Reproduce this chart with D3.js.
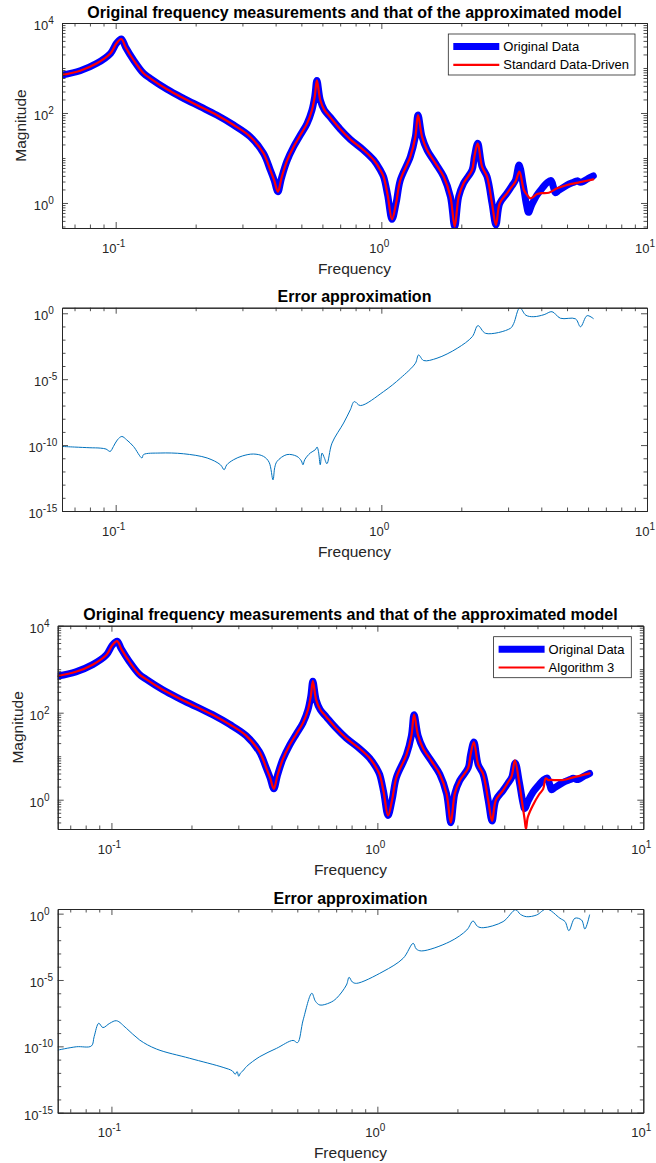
<!DOCTYPE html>
<html><head><meta charset="utf-8">
<script src="https://cdn.jsdelivr.net/npm/d3@7"></script>
<style>
body{margin:0;background:#fff;}
svg{display:block;font-family:"Liberation Sans",Arial,Helvetica,sans-serif;}
</style></head><body>
<script>
// ---------------- data ----------------
const freqDomain = [0.0628, 10];
const xTickValues = [0.1, 1, 10];
const magTickValues = [1, 100, 10000];
const errTickValues = [1e-15, 1e-10, 1e-5, 1];
const mag1YLim = [0.278, 10000];
const mag2YLim = [0.212, 10000];
const err1YLim = [1e-15, 2.65];
const err2YLim = [1e-15, 2.24];

const seriesNames1 = ["Original Data", "Standard Data-Driven"];
const seriesNames2 = ["Original Data", "Algorithm 3"];

// [frequency, magnitude]
const originalData = [
 [0.0628,699],[0.0735,871],[0.0850,1271],[0.0957,2122],[0.1007,3540],[0.1050,4410],[0.1090,2900],
 [0.1167,1506],[0.1273,762],[0.1349,590],[0.156,336],[0.180,212],[0.208,138],[0.240,90],[0.278,54],
 [0.321,29.7],[0.360,12.7],[0.382,5.4],[0.395,3.2],[0.408,1.78],[0.421,3.6],[0.441,8.5],[0.468,18],
 [0.495,32],[0.525,58],[0.548,115],[0.562,240],[0.572,530],[0.589,194],[0.610,117],[0.643,80],
 [0.700,44],[0.764,26],[0.857,15],[0.936,9.0],[0.991,5.4],[1.02,3.8],[1.056,1.5],[1.097,0.434],
 [1.136,0.98],[1.179,3.24],[1.286,10.7],[1.343,29.7],[1.374,90],[1.423,29.7],[1.486,15.1],
 [1.60,7.6],[1.717,3.84],[1.82,1.38],[1.889,0.297],[1.955,1.38],[2.04,2.74],[2.196,5.41],
 [2.24,10.7],[2.306,21.2],[2.394,6.41],[2.50,3.84],[2.61,0.98],[2.70,0.324],[2.79,0.98],[2.97,1.64],
 [3.10,2.4],[3.20,3.24],[3.30,7.0],[3.42,2.5],[3.52,0.9],[3.58,0.62],[3.68,0.9],[3.85,1.5],
 [4.05,2.2],[4.20,2.8],[4.35,3.15],[4.45,2.2],[4.52,1.7],[4.65,1.9],[5.00,2.5],[5.30,2.9],
 [5.45,3.1],[5.62,2.9],[5.75,3.0],[6.00,3.5],[6.28,4.0]
];
const standardModel = [
 [0.0628,699],[0.0735,871],[0.0850,1271],[0.0957,2122],[0.1007,3540],[0.1050,4410],[0.1090,2900],
 [0.1167,1506],[0.1273,762],[0.1349,590],[0.156,336],[0.180,212],[0.208,138],[0.240,90],[0.278,54],
 [0.321,29.7],[0.360,12.7],[0.382,5.4],[0.395,3.2],[0.408,1.78],[0.421,3.6],[0.441,8.5],[0.468,18],
 [0.495,32],[0.525,58],[0.548,115],[0.562,240],[0.572,530],[0.589,194],[0.610,117],[0.643,80],
 [0.700,44],[0.764,26],[0.857,15],[0.936,9.0],[0.991,5.4],[1.02,3.8],[1.056,1.5],[1.097,0.434],
 [1.136,0.98],[1.179,3.24],[1.286,10.7],[1.343,29.7],[1.374,90],[1.423,29.7],[1.486,15.1],
 [1.60,7.6],[1.717,3.84],[1.82,1.38],[1.889,0.297],[1.955,1.38],[2.04,2.74],[2.196,5.41],
 [2.24,10.7],[2.306,21.2],[2.394,6.41],[2.50,3.84],[2.61,0.98],[2.70,0.324],[2.79,0.98],[2.97,1.64],
 [3.10,2.3],[3.20,3.0],[3.31,4.96],[3.44,1.94],[3.54,1.5],[3.64,1.27],[3.86,1.58],[4.00,1.65],
 [4.27,1.69],[4.59,2.12],[5.00,2.51],[5.60,2.9],[6.28,3.36]
];
const algorithm3Model = [
 [0.0628,699],[0.0735,871],[0.0850,1271],[0.0957,2122],[0.1007,3540],[0.1050,4410],[0.1090,2900],
 [0.1167,1506],[0.1273,762],[0.1349,590],[0.156,336],[0.180,212],[0.208,138],[0.240,90],[0.278,54],
 [0.321,29.7],[0.360,12.7],[0.382,5.4],[0.395,3.2],[0.408,1.78],[0.421,3.6],[0.441,8.5],[0.468,18],
 [0.495,32],[0.525,58],[0.548,115],[0.562,240],[0.572,530],[0.589,194],[0.610,117],[0.643,80],
 [0.700,44],[0.764,26],[0.857,15],[0.936,9.0],[0.991,5.4],[1.02,3.8],[1.056,1.5],[1.097,0.434],
 [1.136,0.98],[1.179,3.24],[1.286,10.7],[1.343,29.7],[1.374,90],[1.423,29.7],[1.486,15.1],
 [1.60,7.6],[1.717,3.84],[1.82,1.38],[1.889,0.297],[1.955,1.38],[2.04,2.74],[2.196,5.41],
 [2.24,10.7],[2.306,21.2],[2.394,6.41],[2.50,3.84],[2.61,0.98],[2.70,0.324],[2.79,0.98],[2.97,1.64],
 [3.10,2.5],[3.20,3.5],[3.29,8.0],[3.42,2.3],[3.52,0.7],[3.58,0.35],[3.62,0.212],[3.68,0.4],
 [3.86,0.78],[4.05,1.3],[4.20,1.75],[4.30,3.1],[4.40,2.8],[4.46,2.84],[5.00,2.84],[5.45,3.27],
 [6.28,4.04]
];
// [frequency, error]
const errorStandard = [
 [0.0628,7.9e-11],[0.070,7.1e-11],[0.080,6.3e-11],[0.0875,5.9e-11],[0.092,5.0e-11],[0.0953,3.3e-11],
 [0.0981,7.9e-11],[0.1015,2.5e-10],[0.1055,4.5e-10],[0.110,2.5e-10],[0.1167,7.9e-11],[0.1256,1.05e-11],
 [0.1273,1.9e-11],[0.147,2.5e-11],[0.18,2.2e-11],[0.221,1.05e-11],[0.248,3.2e-12],[0.256,1.35e-12],
 [0.262,3.2e-12],[0.278,7.8e-12],[0.30,1.5e-11],[0.330,2.1e-11],[0.360,1.4e-11],[0.378,5.0e-12],
 [0.391,2.3e-13],[0.397,2.0e-12],[0.405,5.8e-12],[0.441,1.9e-11],[0.481,1.4e-11],[0.500,6.3e-12],
 [0.507,3.2e-12],[0.515,7.9e-12],[0.540,2.5e-11],[0.564,4.4e-11],[0.573,7.1e-11],[0.580,3.2e-11],
 [0.589,3.2e-12],[0.598,2.5e-11],[0.610,1.1e-11],[0.624,3.9e-12],[0.652,1.4e-10],[0.721,4.7e-9],
 [0.764,4.7e-8],[0.791,2.0e-7],[0.834,1.0e-7],[1.02,1.15e-6],[1.18,1.2e-5],[1.343,1.6e-4],
 [1.381,6.9e-4],[1.443,2.6e-4],[1.62,3.9e-4],[1.93,2.2e-3],[2.20,1.7e-2],[2.31,0.115],[2.47,0.030],
 [3.06,0.072],[3.15,0.17],[3.32,2.65],[3.50,0.71],[3.75,0.55],[4.10,0.79],[4.39,1.32],[4.72,0.42],
 [5.38,0.38],[5.62,0.095],[5.95,0.66],[6.28,0.40]
];
const errorAlgorithm3 = [
 [0.0628,5.2e-11],[0.0738,9.3e-11],[0.0841,1.07e-10],[0.0861,5.4e-10],[0.0896,5.5e-9],[0.0929,2.6e-9],
 [0.0986,5.5e-9],[0.1045,8.5e-9],[0.1138,2.3e-9],[0.1277,3.0e-10],[0.1476,6.3e-11],[0.197,1.26e-11],
 [0.263,2.6e-12],[0.285,1.4e-12],[0.292,7.9e-13],[0.297,1.26e-12],[0.301,5.6e-13],[0.306,1.0e-12],
 [0.312,1.4e-12],[0.322,3.0e-12],[0.361,1.66e-11],[0.418,7.1e-11],[0.482,2.8e-10],[0.501,1.9e-10],
 [0.526,9.8e-9],[0.567,1.0e-6],[0.585,2.5e-7],[0.608,1.3e-7],[0.663,1.95e-7],[0.702,4.2e-7],
 [0.765,4.2e-6],[0.783,1.6e-5],[0.805,7.1e-6],[0.835,5.6e-6],[1.05,4.3e-5],[1.25,4.3e-4],
 [1.364,5.8e-3],[1.40,2.2e-3],[1.466,1.55e-3],[1.874,7.8e-3],[2.17,0.059],[2.29,0.28],[2.38,0.11],
 [2.50,0.087],[2.97,0.25],[3.31,1.95],[3.45,0.89],[3.64,0.59],[3.97,0.79],[4.33,2.24],[4.86,0.45],
 [5.08,0.25],[5.25,0.052],[5.53,0.45],[5.86,0.33],[6.03,0.069],[6.28,0.79]
];

// ---------------- drawing ----------------
const W = 656, H = 1163;
const AX = "#262626";
const svg = d3.select("body").append("svg").attr("width", W).attr("height", H);
svg.append("rect").attr("width", W).attr("height", H).attr("fill", "#fff");
const defs = svg.append("defs");

function decadeMinors(domain, majors, withSubdecades) {
  const out = [];
  const lo = Math.floor(Math.log10(domain[0])), hi = Math.ceil(Math.log10(domain[1]));
  for (let d = lo; d <= hi; d++) {
    const ks = withSubdecades ? [1,2,3,4,5,6,7,8,9] : [1];
    ks.forEach(k => {
      const v = +(k * Math.pow(10, d)).toPrecision(6);
      if (v >= domain[0] * 0.9999 && v <= domain[1] * 1.0001 && !majors.some(m => Math.abs(m - v) / v < 1e-6)) out.push(v);
    });
  }
  return out;
}

function expLabel(sel, v, supSize) {
  const e = Math.round(Math.log10(v));
  sel.append("tspan").text("10");
  sel.append("tspan").attr("font-size", supSize).attr("dy", -6).text(String(e));
}

function drawPanel(cfg) {
  const {id, L, R, T, B} = cfg;
  const g = svg.append("g");
  const x = d3.scaleLog().domain(freqDomain).range([L, R]);
  const y = d3.scaleLog().domain(cfg.yDomain).range([B, T]);

  defs.append("clipPath").attr("id", "clip" + id)
    .append("rect").attr("x", L).attr("y", T).attr("width", R - L).attr("height", B - T);

  const line = d3.line().x(d => x(d[0])).y(d => y(d[1])).curve(d3.curveCatmullRom.alpha(0.5));
  const dg = g.append("g").attr("clip-path", `url(#clip${id})`);
  cfg.series.forEach(s => {
    dg.append("path").attr("d", line(s.data)).attr("fill", "none")
      .attr("stroke", s.color).attr("stroke-width", s.width)
      .attr("stroke-linejoin", "round").attr("stroke-linecap", "round");
  });

  // axes with inward ticks on all four sides
  const xMinor = decadeMinors(freqDomain, xTickValues, true);
  const yMinor = decadeMinors(cfg.yDomain, cfg.yTicks, cfg.ySub);
  const mk = (axisFn, scale, vals, size, tr) => {
    const a = g.append("g").attr("transform", tr)
      .call(axisFn(scale).tickValues(vals).tickSizeInner(-size).tickSizeOuter(0).tickFormat(""));
    a.selectAll("path.domain").attr("stroke", AX).attr("stroke-width", 1);
    a.selectAll(".tick line").attr("stroke", AX).attr("stroke-width", 0.8);
    a.selectAll("text").remove();
    return a;
  };
  mk(d3.axisBottom, x, xMinor, 3.5, `translate(0,${B})`);
  mk(d3.axisBottom, x, xTickValues.filter(v => v < freqDomain[1]), 6, `translate(0,${B})`);
  mk(d3.axisTop, x, xMinor, 3.5, `translate(0,${T})`);
  mk(d3.axisTop, x, xTickValues.filter(v => v < freqDomain[1]), 6, `translate(0,${T})`);
  mk(d3.axisLeft, y, yMinor, 3.5, `translate(${L},0)`);
  mk(d3.axisLeft, y, cfg.yTicks, 6, `translate(${L},0)`);
  mk(d3.axisRight, y, yMinor, 3.5, `translate(${R},0)`);
  mk(d3.axisRight, y, cfg.yTicks, 6, `translate(${R},0)`);

  // tick labels
  const tl = g.append("g").attr("fill", AX).attr("font-size", 13);
  xTickValues.forEach(v => {
    const t = tl.append("text").attr("x", x(v) - 2).attr("y", B + 24.5).attr("text-anchor", "middle");
    expLabel(t, v, 10);
  });
  cfg.yTicks.forEach(v => {
    const e = Math.round(Math.log10(v));
    const t = tl.append("text").attr("x", L - (e < 0 ? 4.7 : 8.2)).attr("y", y(v) + 7).attr("text-anchor", "end");
    expLabel(t, v, 10);
  });

  // title & labels
  g.append("text").attr("x", (L + R) / 2).attr("y", T - 5.5).attr("text-anchor", "middle")
    .attr("font-size", 16).attr("font-weight", "bold").attr("fill", "#000").text(cfg.title);
  g.append("text").attr("x", (L + R) / 2).attr("y", B + 45.5).attr("text-anchor", "middle")
    .attr("font-size", 15.5).attr("fill", AX).text("Frequency");
  if (cfg.ylabel) {
    g.append("text").attr("transform", `translate(${cfg.ylabelX},${(T + B) / 2}) rotate(-90)`)
      .attr("text-anchor", "middle").attr("font-size", 15.5).attr("fill", AX).text(cfg.ylabel);
  }

  // legend
  if (cfg.legend) {
    const lg = cfg.legend;
    const lx = R - 12 - lg.w, ly = T + 11;
    const G = g.append("g");
    G.append("rect").attr("x", lx).attr("y", ly).attr("width", lg.w).attr("height", 41)
      .attr("fill", "#fff").attr("stroke", AX).attr("stroke-width", 0.8);
    cfg.series.forEach((s, i) => {
      const yy = ly + 12.5 + i * 18.3;
      G.append("line").attr("x1", lx + 5).attr("x2", lx + 51).attr("y1", yy).attr("y2", yy)
        .attr("stroke", s.color).attr("stroke-width", s.width);
      G.append("text").attr("x", lx + 55).attr("y", yy + 4.6).attr("font-size", 13)
        .attr("fill", "#000").text(lg.names[i]);
    });
  }
}

const magTitle = "Original frequency measurements and that of the approximated model";
const errTitle = "Error approximation";

drawPanel({id: 1, L: 62, R: 647, T: 23, B: 228, yDomain: mag1YLim, yTicks: magTickValues, ySub: true,
  title: magTitle, ylabel: "Magnitude", ylabelX: 26,
  series: [{data: originalData, color: "#0000ff", width: 7}, {data: standardModel, color: "#ff0000", width: 2.2}],
  legend: {w: 186.7, names: seriesNames1}});
drawPanel({id: 2, L: 62, R: 647, T: 307.7, B: 511, yDomain: err1YLim, yTicks: errTickValues, ySub: false,
  title: errTitle, series: [{data: errorStandard, color: "#0072bd", width: 1}]});
drawPanel({id: 3, L: 57.7, R: 643.3, T: 625.7, B: 829, yDomain: mag2YLim, yTicks: magTickValues, ySub: true,
  title: magTitle, ylabel: "Magnitude", ylabelX: 22.5,
  series: [{data: originalData, color: "#0000ff", width: 7}, {data: algorithm3Model, color: "#ff0000", width: 2.2}],
  legend: {w: 137.7, names: seriesNames2}});
drawPanel({id: 4, L: 57.7, R: 643.3, T: 909, B: 1112.7, yDomain: err2YLim, yTicks: errTickValues, ySub: false,
  title: errTitle, series: [{data: errorAlgorithm3, color: "#0072bd", width: 1}]});
</script>
</body></html>
